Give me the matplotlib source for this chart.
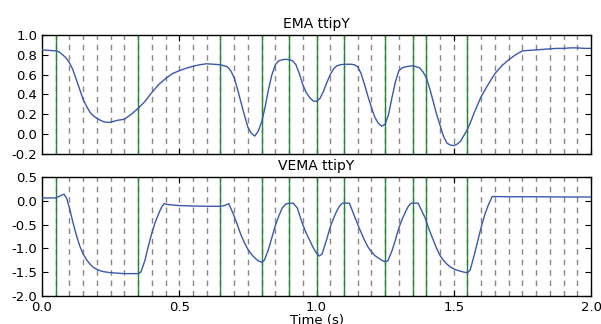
import matplotlib
matplotlib.use("Agg")
import matplotlib.pyplot as plt

# ---- data ----
t_ema = [0, 0.025, 0.05, 0.0625, 0.075, 0.0875, 0.1, 0.1125, 0.125, 0.1375, 0.15, 0.1625, 0.175,
         0.1875, 0.2, 0.2125, 0.225, 0.2375, 0.25, 0.2625, 0.275, 0.2875, 0.3, 0.325,
         0.35, 0.375, 0.4, 0.425, 0.45, 0.475, 0.5, 0.525, 0.55, 0.575, 0.6, 0.625, 0.65, 0.675,
         0.6875, 0.7, 0.7125, 0.725, 0.7375, 0.75, 0.7625, 0.775, 0.7875, 0.8, 0.8125, 0.825,
         0.8375, 0.85, 0.8625, 0.875, 0.8875, 0.9, 0.9125, 0.925, 0.9375, 0.95, 0.9625, 0.975,
         0.9875, 1.0, 1.0125, 1.025, 1.0375, 1.05, 1.0625, 1.075, 1.0875, 1.1, 1.125, 1.1375,
         1.15, 1.1625, 1.175, 1.1875, 1.2, 1.2125, 1.225, 1.2375, 1.25, 1.2625, 1.275, 1.2875,
         1.3, 1.3125, 1.325, 1.35, 1.375, 1.3875, 1.4, 1.4125, 1.425, 1.4375, 1.45, 1.4625,
         1.475, 1.4875, 1.5, 1.5125, 1.525, 1.5375, 1.55, 1.5625, 1.575, 1.5875, 1.6, 1.625,
         1.65, 1.675, 1.7, 1.725, 1.75, 1.775, 1.8, 1.825, 1.85, 1.875, 1.9, 1.925, 1.95, 1.975, 2.0]
ema = [0.85, 0.845, 0.84, 0.83, 0.80, 0.77, 0.72, 0.65, 0.55, 0.45, 0.35, 0.28, 0.22,
       0.185, 0.16, 0.14, 0.125, 0.12, 0.12, 0.13, 0.14, 0.145, 0.15, 0.20,
       0.26, 0.33, 0.42, 0.50, 0.56, 0.61, 0.64, 0.665, 0.685, 0.70, 0.71, 0.705, 0.70, 0.68,
       0.64, 0.57, 0.45, 0.32, 0.19, 0.07, 0.01, -0.02, 0.03, 0.12, 0.27, 0.45,
       0.60, 0.70, 0.74, 0.75, 0.755, 0.75, 0.74, 0.70, 0.61, 0.50, 0.42, 0.37,
       0.335, 0.33, 0.36, 0.43, 0.52, 0.60, 0.66, 0.69, 0.70, 0.705, 0.705, 0.70,
       0.68, 0.61, 0.50, 0.38, 0.27, 0.17, 0.11, 0.08, 0.10, 0.20, 0.37, 0.53,
       0.64, 0.67, 0.68, 0.69, 0.67, 0.63, 0.57, 0.46, 0.33, 0.20, 0.09, -0.02,
       -0.09, -0.11, -0.115, -0.10, -0.07, -0.01, 0.05, 0.13, 0.22, 0.30, 0.38, 0.50,
       0.61, 0.69, 0.75, 0.80, 0.84, 0.845, 0.85, 0.855, 0.86, 0.865, 0.865, 0.87, 0.87, 0.865, 0.865]

t_vema = [0, 0.025, 0.05, 0.065, 0.08, 0.09, 0.1, 0.1125, 0.125, 0.1375, 0.15, 0.1625, 0.175,
          0.1875, 0.2, 0.2125, 0.225, 0.25, 0.275, 0.3, 0.325, 0.35, 0.36, 0.375, 0.3875, 0.4,
          0.4125, 0.425, 0.435, 0.445, 0.46, 0.5, 0.55, 0.6, 0.65, 0.665, 0.68, 0.695, 0.71,
          0.725, 0.7375, 0.75, 0.7625, 0.775, 0.7875, 0.8, 0.81, 0.825, 0.8375, 0.85, 0.8625,
          0.875, 0.89, 0.915, 0.93, 0.94, 0.95, 0.9625, 0.975, 0.9875, 1.0, 1.01, 1.02, 1.035,
          1.05, 1.0625, 1.075, 1.085, 1.095, 1.12, 1.14, 1.1575, 1.175, 1.1875, 1.2, 1.2125,
          1.225, 1.2375, 1.25, 1.26, 1.275, 1.2875, 1.3, 1.3125, 1.325, 1.335, 1.345, 1.37,
          1.395, 1.41, 1.425, 1.4375, 1.45, 1.4625, 1.475, 1.4875, 1.5, 1.5125, 1.525, 1.5375,
          1.55, 1.56, 1.575, 1.5875, 1.6, 1.6125, 1.625, 1.64, 1.7, 1.8, 1.9, 2.0]
vema = [0.06, 0.06, 0.06, 0.10, 0.14, 0.05, -0.15, -0.45, -0.72, -0.95, -1.12, -1.24, -1.33,
        -1.40, -1.44, -1.47, -1.49, -1.51, -1.52, -1.53, -1.53, -1.53, -1.50, -1.25, -0.95, -0.68,
        -0.45, -0.27, -0.14, -0.06, -0.08, -0.10, -0.11, -0.115, -0.115, -0.10, -0.06, -0.25, -0.48,
        -0.72, -0.88, -1.02, -1.12, -1.20, -1.26, -1.29, -1.25, -1.02, -0.77, -0.52, -0.32,
        -0.15, -0.06, -0.05, -0.15, -0.33, -0.50, -0.68, -0.83, -0.98, -1.10, -1.16, -1.12, -0.85,
        -0.55, -0.36, -0.20, -0.10, -0.05, -0.05, -0.35, -0.60, -0.83, -0.97, -1.07, -1.15,
        -1.20, -1.25, -1.28, -1.26, -1.05, -0.82, -0.57, -0.38, -0.22, -0.11, -0.05, -0.05,
        -0.35, -0.60, -0.82, -1.00, -1.15, -1.25, -1.33, -1.39, -1.43, -1.46, -1.48, -1.50,
        -1.51, -1.45, -1.13, -0.84, -0.55, -0.30, -0.10, 0.09, 0.085, 0.085, 0.08, 0.08]

green_times = [0.05, 0.35, 0.65, 0.80, 0.90, 1.00, 1.10, 1.25, 1.35, 1.40, 1.55]
grid_times = [round(0.05 * k, 2) for k in range(1, 40)]

titles = ["EMA ttipY", "VEMA ttipY"]
xticks = [0.0, 0.5, 1.0, 1.5, 2.0]
yticks_top = [-0.2, 0.0, 0.2, 0.4, 0.6, 0.8, 1.0]
yticks_bot = [-2.0, -1.5, -1.0, -0.5, 0.0, 0.5]

# ---- style ----
plt.rcParams.update({
    "font.family": ["DejaVu Sans"],
    "font.size": 9.5,
    "xtick.direction": "in",
    "ytick.direction": "in",
    "xtick.top": True,
    "ytick.right": True,
    "xtick.major.size": 4,
    "ytick.major.size": 4,
    "axes.linewidth": 1.0,
})

fig = plt.figure(figsize=(6.01, 3.24), dpi=100)
left, right = 0.0699, 0.9834
ax1 = fig.add_axes([left, 0.5247, right - left, 0.892 - 0.5247])
ax2 = fig.add_axes([left, 0.0864, right - left, 0.4537 - 0.0864])

line_col = "#3a59ad"
for ax, tt, yy, title, yt in [(ax1, t_ema, ema, titles[0], yticks_top),
                               (ax2, t_vema, vema, titles[1], yticks_bot)]:
    for g in grid_times:
        ax.axvline(g, color="#888888", lw=1.0, dashes=(4, 3.5), zorder=1)
    for g in green_times:
        ax.axvline(g, color="#1f8a2f", lw=1.0, zorder=2)
    ax.plot(tt, yy, color=line_col, lw=1.0, zorder=3)
    ax.set_xlim(0, 2.0)
    ax.set_ylim(yt[0], yt[-1])
    ax.set_yticks(yt)
    ax.set_yticklabels([f"{v:.1f}" for v in yt])
    ax.set_xticks(xticks)
    ax.set_title(title, fontsize=10, pad=5)

ax1.set_xticklabels([])
ax2.set_xticklabels([f"{v:.1f}" for v in xticks])
ax2.set_xlabel("Time (s)", fontsize=9.5, labelpad=0)

fig.savefig("out.png", dpi=100, facecolor="white")
